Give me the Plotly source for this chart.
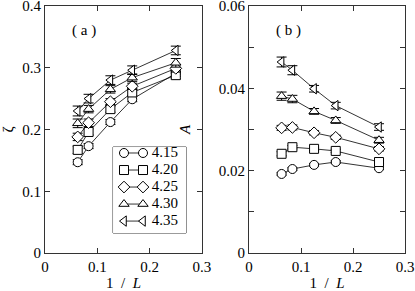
import plotly.graph_objects as go

inv_L = [0.0625, 0.0833, 0.125, 0.1667, 0.25]
temps = ["4.15", "4.20", "4.25", "4.30", "4.35"]
symbols = ["circle", "square", "diamond", "triangle-up", "triangle-left"]

zeta = {
    "4.15": [0.147, 0.173, 0.212, 0.249, 0.291],
    "4.20": [0.167, 0.196, 0.233, 0.260, 0.288],
    "4.25": [0.188, 0.211, 0.245, 0.270, 0.299],
    "4.30": [0.210, 0.233, 0.265, 0.284, 0.308],
    "4.35": [0.230, 0.250, 0.280, 0.296, 0.328],
}
zeta_err = {
    "4.15": [0.004, 0.004, 0.004, 0.004, 0.005],
    "4.20": [0.006, 0.005, 0.005, 0.005, 0.006],
    "4.25": [0.006, 0.006, 0.005, 0.005, 0.006],
    "4.30": [0.007, 0.006, 0.006, 0.006, 0.007],
    "4.35": [0.008, 0.007, 0.007, 0.007, 0.007],
}
amp = {
    "4.15": [0.0192, 0.0204, 0.0214, 0.0221, 0.0206],
    "4.20": [0.0241, 0.0257, 0.0253, 0.0248, 0.0221],
    "4.25": [0.0304, 0.0305, 0.0292, 0.0281, 0.0253],
    "4.30": [0.0381, 0.0374, 0.0344, 0.0322, 0.0274],
    "4.35": [0.0464, 0.0444, 0.0399, 0.0358, 0.0306],
}
amp_err = {
    "4.15": [0.0003, 0.0003, 0.0003, 0.0003, 0.0003],
    "4.20": [0.0005, 0.0004, 0.0004, 0.0004, 0.0004],
    "4.25": [0.0006, 0.0006, 0.0005, 0.0005, 0.0005],
    "4.30": [0.0010, 0.0009, 0.0007, 0.0007, 0.0007],
    "4.35": [0.0012, 0.0011, 0.0008, 0.0008, 0.0008],
}

SERIF = "Liberation Serif"
font = dict(family=SERIF, size=15, color="black")

fig = go.Figure()
for i, (t, sym) in enumerate(zip(temps, symbols)):
    common = dict(
        mode="lines+markers", showlegend=False, hoverinfo="skip",
        line=dict(color="black", width=0.8),
        marker=dict(symbol=sym, size=9, color="white",
                    line=dict(color="black", width=1)),
    )
    fig.add_trace(go.Scatter(
        x=inv_L, y=zeta[t], name=t, xaxis="x", yaxis="y",
        error_y=dict(type="data", array=zeta_err[t], color="black",
                     thickness=1, width=5),
        **common))
    fig.add_trace(go.Scatter(
        x=inv_L, y=amp[t], name=t, xaxis="x2", yaxis="y2",
        error_y=dict(type="data", array=amp_err[t], color="black",
                     thickness=1, width=5),
        **common))
    # legend row: two symbols joined by a line, then the label
    fig.add_trace(go.Scatter(
        x=[0.15, 0.41], y=[i, i], xaxis="x3", yaxis="y3", **common))
    fig.add_trace(go.Scatter(
        x=[0.53], y=[i], text=[t], mode="text", textposition="middle right",
        textfont=font, showlegend=False, hoverinfo="skip",
        xaxis="x3", yaxis="y3"))

axis_common = dict(
    showline=True, linecolor="#333", linewidth=1, mirror="ticks",
    ticks="inside", ticklen=5, tickcolor="#333", showgrid=False,
    zeroline=False, tickfont=font, ticklabeloverflow="allow",
    automargin=False,
)

fig.update_layout(
    width=415, height=291,
    margin=dict(l=45, r=10, t=6, b=38, autoexpand=False),
    paper_bgcolor="white", plot_bgcolor="white",
    font=font,
    showlegend=False,
    hovermode=False,
    xaxis=dict(domain=[0, 0.436], range=[0, 0.3],
               tickvals=[0, 0.1, 0.2, 0.3], ticktext=["0", "0.1", "0.2", "0.3"],
               title=dict(text="1  /  <i>L</i>", standoff=2, font=font),
               anchor="y", **axis_common),
    yaxis=dict(domain=[0, 1], range=[0, 0.4],
               tickvals=[0, 0.1, 0.2, 0.3, 0.4], ticktext=["0", "0.1", "0.2", "0.3", "0.4"],
               title=dict(text="ζ", standoff=8, font=font),
               anchor="x", **axis_common),
    xaxis2=dict(domain=[0.567, 1], range=[0, 0.3],
                tickvals=[0, 0.1, 0.2, 0.3], ticktext=["0", "0.1", "0.2", "0.3"],
                title=dict(text="1  /  <i>L</i>", standoff=2, font=font),
                anchor="y2", **axis_common),
    yaxis2=dict(domain=[0, 1], range=[0, 0.06],
                tickvals=[0, 0.02, 0.04, 0.06], ticktext=["0", "0.02", "0.04", "0.06"],
                minor=dict(dtick=0.01, ticks="inside", ticklen=5, tickcolor="#333"),
                title=dict(text="<i>A</i>", standoff=24, font=font),
                anchor="x2", **axis_common),
    xaxis3=dict(domain=[0.189, 0.392], range=[0, 1], visible=False, fixedrange=True),
    yaxis3=dict(domain=[0.081, 0.429], range=[4.7, -0.35], visible=False, fixedrange=True,
                anchor="x3"),
    shapes=[dict(type="rect", xref="x3 domain", yref="y3 domain",
                 x0=0, x1=1, y0=0, y1=1, line=dict(color="#333", width=1),
                 fillcolor="white", layer="below")],
    annotations=[
        dict(text="( a )", x=0.075, y=0.36, xref="x", yref="y",
             showarrow=False, font=font),
        dict(text="( b )", x=0.075, y=0.054, xref="x2", yref="y2",
             showarrow=False, font=font),
    ],
)

fig.write_html("out.html", config={"displayModeBar": False, "staticPlot": True},
               post_script="document.body.style.margin='0';")
